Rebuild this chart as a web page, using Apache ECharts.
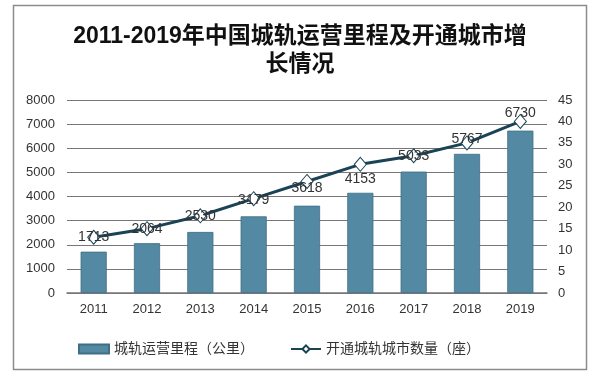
<!DOCTYPE html>
<html>
<head>
<meta charset="utf-8">
<script src="https://cdn.jsdelivr.net/npm/echarts@6/dist/echarts.min.js"></script>
<style>html,body{margin:0;padding:0;background:#fff;}#c{width:600px;height:378px;}</style>
</head>
<body>
<div id="c"></div>
<script>
var years = ['2011','2012','2013','2014','2015','2016','2017','2018','2019'];
var mileage = [1713, 2064, 2530, 3179, 3618, 4153, 5033, 5767, 6730];
var cities = [13, 15, 18, 22, 26, 30, 32, 35, 40];
var leftTicks = {min: 0, max: 8000, interval: 1000};
var rightTicks = {min: 0, max: 45, interval: 5};
var barName = '城轨运营里程（公里）';
var lineName = '开通城轨城市数量（座）';
var labelOffsets = [[0,0],[0,0],[0,0],[0,1],[0,7],[0,15],[0,0],[0,-4],[0,-8]];

var chart = echarts.init(document.getElementById('c'));
var font = '"Liberation Sans", Arial, "Noto Sans CJK SC", sans-serif';
chart.setOption({
  animation: false,
  textStyle: {fontFamily: font},
  title: {
    text: '2011-2019年中国城轨运营里程及开通城市增\n长情况',
    left: 'center', top: 18,
    textStyle: {fontSize: 23, fontWeight: 'bold', color: '#111', lineHeight: 28, fontFamily: font}
  },
  graphic: [{
    type: 'rect', shape: {x: 13.5, y: 5.5, width: 573, height: 364},
    style: {fill: 'none', stroke: '#8c8c8c', lineWidth: 1.5}, z: -1
  }],
  legend: {
    left: 73, top: 337, itemWidth: 30, itemHeight: 9, itemGap: 36,
    textStyle: {fontSize: 14, color: '#333', fontFamily: font},
    data: [{name: barName, icon: 'rect'}, {name: lineName}]
  },
  grid: {left: 67, right: 53, top: 100, bottom: 85},
  xAxis: {
    type: 'category', data: years,
    axisLine: {lineStyle: {color: '#777', width: 1.5}},
    axisTick: {show: false},
    axisLabel: {fontSize: 13, color: '#333', margin: 10}
  },
  yAxis: [{
    type: 'value', min: leftTicks.min, max: leftTicks.max, interval: leftTicks.interval,
    axisLine: {show: false}, axisTick: {show: false},
    axisLabel: {fontSize: 13, color: '#333', margin: 12, formatter: function (v) { return String(v); }},
    splitLine: {lineStyle: {color: '#777', width: 1}}
  }, {
    type: 'value', min: rightTicks.min, max: rightTicks.max, interval: rightTicks.interval,
    axisLine: {show: false}, axisTick: {show: false},
    axisLabel: {fontSize: 13, color: '#333', margin: 11},
    splitLine: {show: false}
  }],
  series: [{
    name: barName, type: 'bar', data: mileage, barWidth: '49%',
    itemStyle: {color: '#5489a3', borderColor: '#3f6f87', borderWidth: 0.8}
  }, {
    name: lineName, type: 'line', yAxisIndex: 1,
    data: cities.map(function (v, i) {
      return {value: v, label: {offset: labelOffsets[i]}};
    }),
    z: 5,
    lineStyle: {color: '#1b4356', width: 3},
    symbol: 'diamond', symbolSize: [12, 14],
    itemStyle: {color: '#ffffff', borderColor: '#1b4356', borderWidth: 1},
    label: {
      show: true, position: 'inside', fontSize: 14, color: '#333',
      formatter: function (p) { return mileage[p.dataIndex]; }
    }
  }]
});
</script>
</body>
</html>
